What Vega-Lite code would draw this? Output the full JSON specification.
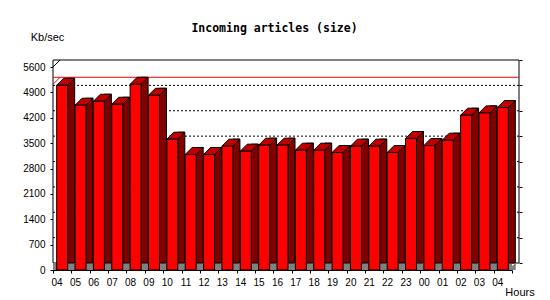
{
  "$schema": "https://vega.github.io/schema/vega-lite/v6.json",
  "width": 459,
  "height": 203,
  "autosize": {"type": "none"},
  "padding": {"left": 53, "top": 67, "right": 38, "bottom": 30},
  "background": "white",
  "title": {
    "text": "Incoming articles (size)",
    "font": "DejaVu Sans Mono",
    "fontWeight": "bold",
    "fontSize": 11.5,
    "color": "black",
    "anchor": "middle",
    "frame": "group",
    "dx": -8,
    "offset": -3
  },
  "datasets": {
    "hours": [
      {"key": "04", "v": 5096},
      {"key": "05", "v": 4545},
      {"key": "06", "v": 4655},
      {"key": "07", "v": 4572},
      {"key": "08", "v": 5123},
      {"key": "09", "v": 4820},
      {"key": "10", "v": 3608},
      {"key": "11", "v": 3187},
      {"key": "12", "v": 3187},
      {"key": "13", "v": 3416},
      {"key": "14", "v": 3278},
      {"key": "15", "v": 3443},
      {"key": "16", "v": 3443},
      {"key": "17", "v": 3305},
      {"key": "18", "v": 3305},
      {"key": "19", "v": 3241},
      {"key": "20", "v": 3416},
      {"key": "21", "v": 3416},
      {"key": "22", "v": 3241},
      {"key": "23", "v": 3627},
      {"key": "00", "v": 3434},
      {"key": "01", "v": 3581},
      {"key": "02", "v": 4270},
      {"key": "03", "v": 4334},
      {"key": "04b", "v": 4481}
    ],
    "grid": [
      {"g": 700}, {"g": 1400}, {"g": 2100}, {"g": 2800}, {"g": 3500}, {"g": 4200}, {"g": 4900}
    ],
    "one": [{"f": 1}]
  },
  "data": {"name": "hours"},
  "config": {
    "view": {"stroke": null},
    "axis": {
      "labelFont": "Liberation Sans",
      "labelFontSize": 10,
      "labelColor": "black",
      "titleFont": "Liberation Sans",
      "titleFontSize": 11,
      "titleFontWeight": "normal",
      "titleColor": "black",
      "domainColor": "black",
      "tickColor": "black",
      "grid": false
    }
  },
  "resolve": {"axis": {"x": "shared", "y": "independent"}},
  "layer": [
    {
      "data": {"name": "one"},
      "mark": {"type": "rect", "fill": "white", "stroke": "black", "strokeWidth": 1, "xOffset": 7, "x2Offset": 7, "yOffset": -7, "y2Offset": -7},
      "encoding": {
        "y": {"datum": 5600, "type": "quantitative", "scale": {"domain": [0, 5600], "nice": false}, "axis": null},
        "y2": {"datum": 0}
      }
    },
    {
      "data": {"name": "grid"},
      "mark": {"type": "rule", "color": "black", "strokeDash": [2, 2], "xOffset": 7, "x2Offset": 7, "yOffset": -7},
      "encoding": {
        "y": {
          "field": "g",
          "type": "quantitative",
          "axis": {"orient": "right", "values": [0, 700, 1400, 2100, 2800, 3500, 4200, 4900, 5600], "labels": false, "domain": false, "ticks": true, "tickSize": 3, "offset": 14, "translate": -6.5, "title": null, "grid": false}
        }
      }
    },
    {
      "mark": {"type": "rule", "color": "#ff0000", "xOffset": 7, "x2Offset": 7, "yOffset": -7},
      "encoding": {
        "y": {"aggregate": "max", "field": "v", "type": "quantitative", "axis": null}
      }
    },
    {
      "transform": [
        {"joinaggregate": [{"op": "max", "field": "v", "as": "mx"}]},
        {"filter": "datum.key == '04'"}
      ],
      "layer": [
        {
          "mark": {"type": "point", "shape": "M0,0L7,-7", "size": 4, "filled": false, "stroke": "black", "strokeWidth": 1, "opacity": 1, "xOffset": -9.18},
          "encoding": {
            "x": {"field": "key", "type": "nominal", "sort": null},
            "y": {"datum": 5600, "type": "quantitative", "axis": null}
          }
        },
        {
          "mark": {"type": "point", "shape": "M0,0L7,-7", "size": 4, "filled": false, "stroke": "#ff0000", "strokeWidth": 1, "opacity": 1, "xOffset": -9.18},
          "encoding": {
            "x": {"field": "key", "type": "nominal", "sort": null},
            "y": {"field": "mx", "type": "quantitative", "axis": null}
          }
        }
      ]
    },
    {
      "data": {"name": "one"},
      "mark": {"type": "rect", "fill": "#808080", "yOffset": -7, "y2Offset": 0},
      "encoding": {
        "y": {"datum": 0, "type": "quantitative", "axis": null},
        "y2": {"datum": 0}
      }
    },
    {
      "mark": {"type": "bar", "width": 7, "xOffset": 9, "yOffset": -7, "y2Offset": 0, "fill": "#800000", "stroke": "black", "strokeWidth": 1},
      "encoding": {
        "x": {"field": "key", "type": "nominal", "sort": null},
        "y": {"field": "v", "type": "quantitative", "axis": null}
      }
    },
    {
      "mark": {"type": "point", "shape": "M5.5,0L12.5,-7L12.9,-7L12.9,0Z", "size": 4, "filled": true, "fill": "#808080", "strokeWidth": 0, "opacity": 1},
      "encoding": {
        "x": {"field": "key", "type": "nominal", "sort": null},
        "y": {"datum": 0, "type": "quantitative", "axis": null}
      }
    },
    {
      "mark": {"type": "point", "shape": "M-5.5,0L5.5,0L12.5,-7L1.5,-7Z", "size": 4, "filled": true, "fill": "#c00000", "stroke": "black", "strokeWidth": 1, "opacity": 1},
      "encoding": {
        "x": {"field": "key", "type": "nominal", "sort": null},
        "y": {"field": "v", "type": "quantitative", "axis": null}
      }
    },
    {
      "mark": {"type": "bar", "width": 11, "fill": "#ff0000", "stroke": "black", "strokeWidth": 1},
      "encoding": {
        "x": {
          "field": "key",
          "type": "nominal",
          "sort": null,
          "scale": {"paddingInner": 0, "paddingOuter": 0},
          "axis": {"title": "Hours", "titleX": 466.5, "titleY": 22.5, "titleAlign": "center", "titleBaseline": "middle", "labelExpr": "slice(datum.label, 0, 2)", "labelAngle": 0, "tickBand": "extent", "tickSize": 3, "labelPadding": 4, "labelBaseline": "top"}
        },
        "y": {
          "field": "v",
          "type": "quantitative",
          "axis": {"orient": "left", "values": [0, 700, 1400, 2100, 2800, 3500, 4200, 4900, 5600], "format": "d", "title": "Kb/sec", "titleAngle": 0, "titleX": -6, "titleY": -30, "titleAlign": "center", "titleBaseline": "middle", "tickSize": 3, "labelPadding": 5, "grid": false}
        }
      }
    }
  ]
}
